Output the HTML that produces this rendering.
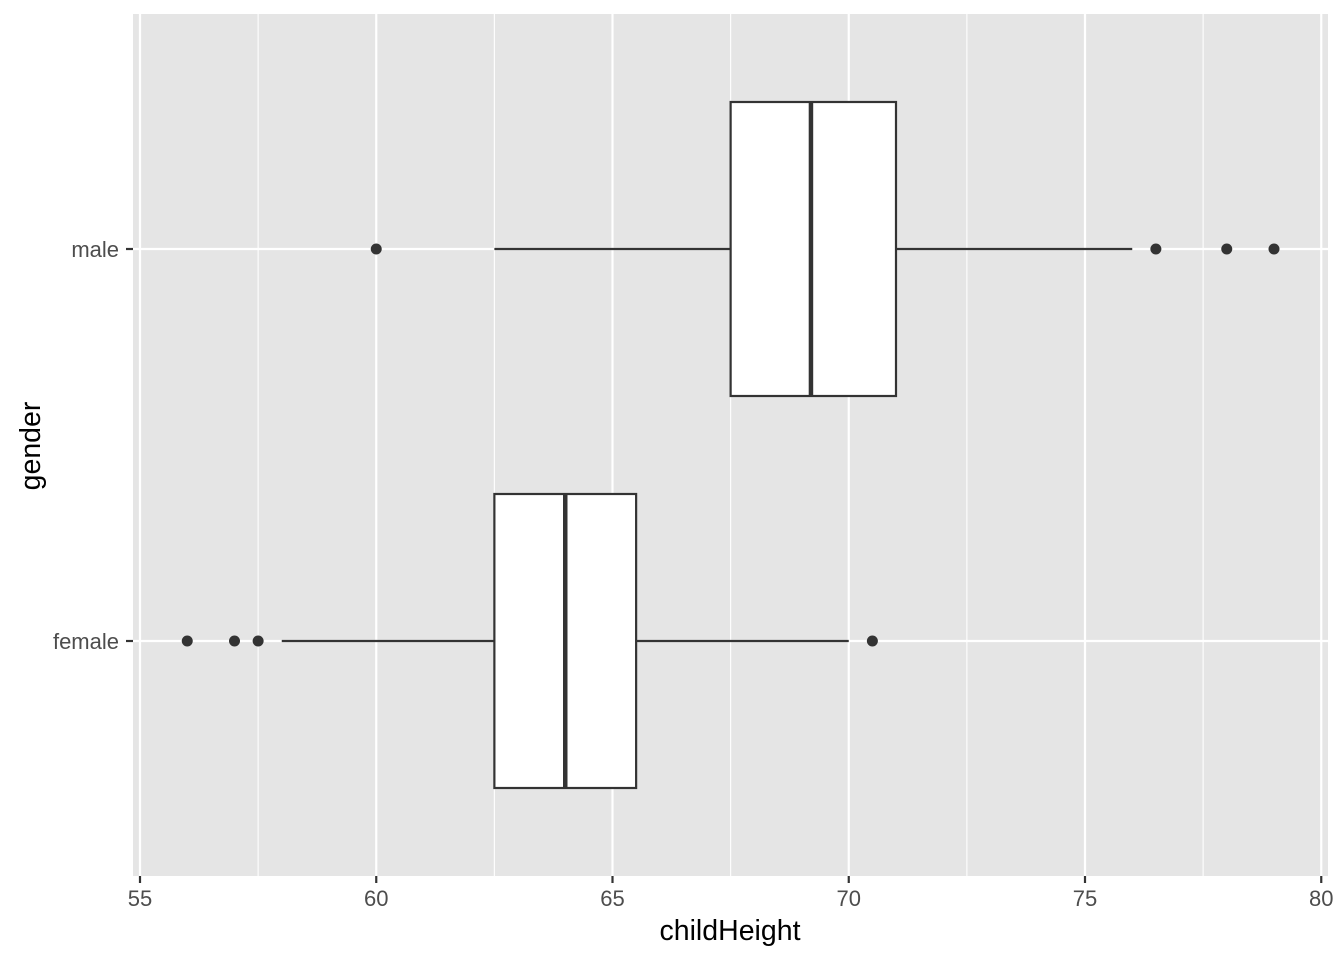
<!DOCTYPE html>
<html><head><meta charset="utf-8"><style>
body{margin:0;background:#fff;}
svg text{font-family:"Liberation Sans",sans-serif;}
</style></head><body>
<svg id="chart" width="1344" height="960" xmlns="http://www.w3.org/2000/svg">
<rect x="133" y="14" width="1195" height="862" style="fill:#e5e5e5"/>
<g id="grid"></g><g id="marks"></g><g id="axes"></g>
<text x="730" y="940" font-size="28.5" text-anchor="middle" fill="#000">childHeight</text>
<text transform="translate(40,446) rotate(-90)" font-size="28.5" text-anchor="middle" fill="#000">gender</text>
</svg>
<script>
const categories=["female","male"];
const q1=[62.5,67.5];
const medians=[64,69.2];
const q3=[65.5,71];
const whiskLow=[58,62.5];
const whiskHigh=[70,76];
const outliers=[[56,57,57.5,70.5],[60,76.5,78,79]];
const xTicks=[55,60,65,70,75,80];
const xMinor=[57.5,62.5,67.5,72.5,77.5];
const NS="http://www.w3.org/2000/svg";
const X=v=>140+(v-55)*47.25;
const Y=i=>641-i*392;
function mk(p,t,a){const e=document.createElementNS(NS,t);for(const k in a)e.setAttribute(k,a[k]);p.appendChild(e);return e;}
const grid=document.getElementById('grid'),marks=document.getElementById('marks'),axes=document.getElementById('axes');
xMinor.forEach(v=>{const l=mk(grid,'line',{x1:X(v),x2:X(v),y1:14,y2:876,stroke:'#fff','stroke-width':1.1});

});
xTicks.forEach(v=>{const l=mk(grid,'line',{x1:X(v),x2:X(v),y1:14,y2:876,stroke:'#fff','stroke-width':2.2});


const t=mk(axes,'line',{x1:X(v),x2:X(v),y1:876,y2:883,stroke:'#333','stroke-width':2.2});


const tx=mk(axes,'text',{x:X(v),y:906,'font-size':22,'text-anchor':'middle',fill:'#4d4d4d'});tx.textContent=v;

});
categories.forEach((c,i)=>{const y=Y(i);
const g=mk(grid,'line',{x1:133,x2:1328,y1:y,y2:y,stroke:'#fff','stroke-width':2.2});


const t=mk(axes,'line',{x1:126,x2:133,y1:y,y2:y,stroke:'#333','stroke-width':2.2});


const tx=mk(axes,'text',{x:119,y:y+8,'font-size':22,'text-anchor':'end',fill:'#4d4d4d'});tx.textContent=c;


const w1=mk(marks,'line',{x1:X(whiskLow[i]),x2:X(q1[i]),y1:y,y2:y,stroke:'#333','stroke-width':2.2});


const w2=mk(marks,'line',{x1:X(q3[i]),x2:X(whiskHigh[i]),y1:y,y2:y,stroke:'#333','stroke-width':2.2});


const b=mk(marks,'rect',{x:X(q1[i]),y:y-147,width:X(q3[i])-X(q1[i]),height:294,fill:'#fff',stroke:'#333','stroke-width':2.2});


const m=mk(marks,'line',{x1:X(medians[i]),x2:X(medians[i]),y1:y-147,y2:y+147,stroke:'#333','stroke-width':4.5});


outliers[i].forEach(o=>{const p=mk(marks,'circle',{cx:X(o),cy:y,r:5.5,fill:'#333'});

});
});
</script>
</body></html>
